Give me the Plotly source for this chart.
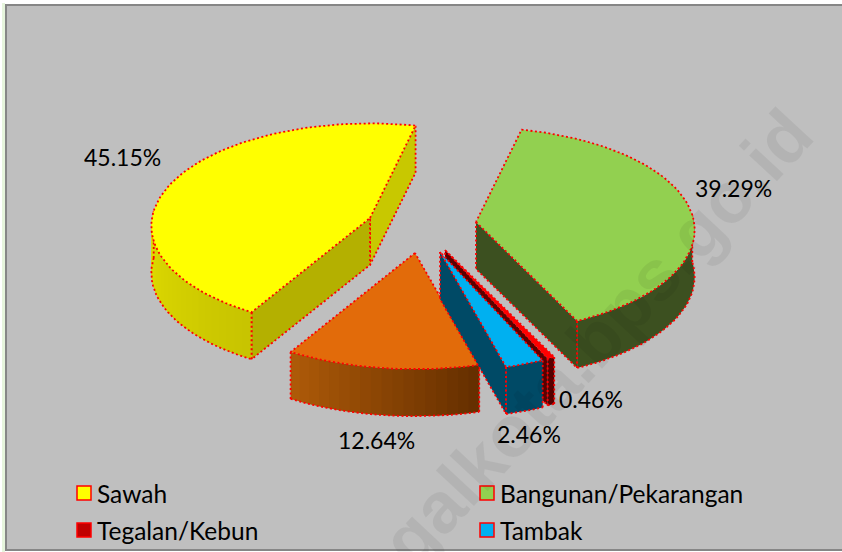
import math
import plotly.graph_objects as go

# --- data ---
slice_names = ["Sawah", "Lainnya", "Tambak", "Tegalan/Kebun", "Bangunan/Pekarangan"]
slice_values = [45.15, 12.64, 2.46, 0.46, 39.29]
legend_names = ["Sawah", "Bangunan/Pekarangan", "Tegalan/Kebun", "Tambak"]
legend_colors = ["#FFFF00", "#92D050", "#C00000", "#00B0F0"]

# --- styling / layout of the projected pie ---
START_ANGLE = 77.0
RX, RY, PERSP, DEPTH = 218.0, 102.0, 0.078, 47.0
BG = "#BFBFBF"
EDGE = "#FF0000"
FONT = "Lato"
styles = {
    "Sawah": dict(c=(370, 218), k=1.0, top="#FFFF00", w_start="#C8C800", w_end="#B4B000", arc=("#E2DE00", "#C8C400")),
    "Lainnya": dict(c=(415, 253), k=1.05, top="#E26B0A", w_start=None, w_end=None, arc=("#AD5A08", "#662F00")),
    "Tambak": dict(c=(440, 252), k=1.08, top="#00B0F0", w_start="#004A66", w_end=None, arc=("#004A66", "#004A66")),
    "Tegalan/Kebun": dict(c=(445, 250), k=1.08, top="#FF0000", w_start="#5A0000", w_end=None, arc=("#5A0000", "#5A0000")),
    "Bangunan/Pekarangan": dict(c=(476, 222), k=1.0, top="#92D050", w_start="#3C5020", w_end=None, arc=("#3C5020", "#3C5020")),
}
draw_order = ["Sawah", "Bangunan/Pekarangan", "Lainnya", "Tegalan/Kebun", "Tambak"]
label_pos = {
    "Sawah": (122, 157), "Bangunan/Pekarangan": (733, 188), "Lainnya": (376, 440),
    "Tambak": (529, 434), "Tegalan/Kebun": (591, 399),
}
legend_pos = [(84, 493), (487, 493), (84, 530), (487, 530)]

# cumulative angles, counter-clockwise
angles = {}
a = START_ANGLE
for n, v in zip(slice_names, slice_values):
    angles[n] = (a, a + v / sum(slice_values) * 360.0)
    a = angles[n][1]


def proj(c, deg, k=1.0, dz=0.0):
    t = math.radians(deg)
    w = 1 + PERSP * math.sin(t)
    return c[0] + k * RX * math.cos(t) / w, c[1] - k * RY * math.sin(t) / w + dz


def hex2rgb(h):
    return tuple(int(h[i:i + 2], 16) for i in (1, 3, 5))


def mix(c1, c2, f):
    a1, a2 = hex2rgb(c1), hex2rgb(c2)
    return "rgb(%d,%d,%d)" % tuple(round(p + (q - p) * f) for p, q in zip(a1, a2))


fig = go.Figure()


def poly(pts, fill, name):
    fig.add_trace(go.Scatter(
        x=[p[0] for p in pts], y=[p[1] for p in pts], mode="lines", fill="toself",
        fillcolor=fill, line=dict(width=0), name=name,
        showlegend=False, hoverinfo="skip"))


def edge(pts, name):
    fig.add_trace(go.Scatter(
        x=[p[0] for p in pts], y=[p[1] for p in pts], mode="lines",
        line=dict(color=EDGE, width=1.8, dash="2px,2.5px"), name=name,
        showlegend=False, hoverinfo="skip"))


for n in draw_order:
    s = styles[n]
    c, k = s["c"], s["k"]
    a0, a1 = angles[n]
    nsteps = max(2, int((a1 - a0) / 2))
    arc = [a0 + (a1 - a0) * i / nsteps for i in range(nsteps + 1)]
    top = [c] + [proj(c, t, k) for t in arc]

    # flat cut walls
    for key, ang in (("w_start", a0), ("w_end", a1)):
        if s[key]:
            p, q = c, proj(c, ang, k)
            poly([p, q, (q[0], q[1] + DEPTH), (p[0], p[1] + DEPTH)], s[key], n)
            edge([(q[0], q[1]), (q[0], q[1] + DEPTH), (p[0], p[1] + DEPTH), (p[0], p[1])], n)

    # outer rim wall (only the front half is visible)
    lo, hi = max(a0, 176.0), min(a1, 364.0)
    if hi > lo:
        strips = max(2, int((hi - lo) / 2.5))
        ts = [lo + (hi - lo) * i / strips for i in range(strips + 1)]
        if s["arc"][0] == s["arc"][1]:
            rim = [proj(c, t, k) for t in ts] + [proj(c, t, k, DEPTH) for t in reversed(ts)]
            poly(rim, s["arc"][0], n)
        else:
            for i in range(strips):
                # each strip runs under the next one so that no seam shows
                t0, t1 = ts[i], ts[min(i + 2, strips)]
                mid = [t0, ts[i + 1], t1]
                pts = [proj(c, t, k) for t in mid] + [proj(c, t, k, DEPTH) for t in reversed(mid)]
                poly(pts, mix(s["arc"][0], s["arc"][1], i / max(1, strips - 1)), n)
        edge([proj(c, t, k, DEPTH) for t in ts], n)
        first, last = proj(c, ts[0], k), proj(c, ts[-1], k)
        edge([first, (first[0], first[1] + DEPTH)], n)
        edge([last, (last[0], last[1] + DEPTH)], n)

    # top face
    poly(top, s["top"], n)
    edge(top + [c], n)

# legend swatches and labels
for name, col, (lx, ly) in zip(legend_names, legend_colors, legend_pos):
    fig.add_trace(go.Scatter(
        x=[lx], y=[ly], mode="markers", name=name, showlegend=False, hoverinfo="skip",
        marker=dict(symbol="square", size=14, color=col, line=dict(color=EDGE, width=1.5))))
    fig.add_annotation(x=lx + 11, y=ly, text=name, showarrow=False, xanchor="left", yanchor="middle",
                       font=dict(family=FONT, size=24.5, color="#000000"))

# value labels
for n, v in zip(slice_names, slice_values):
    lx, ly = label_pos[n]
    fig.add_annotation(x=lx, y=ly, text=f"{v:.2f}%", showarrow=False, xanchor="center", yanchor="middle",
                       font=dict(family=FONT, size=23, color="#000000"))

# watermark
fig.add_annotation(x=575, y=361, text="<b>tegalkota.bps.go.id</b>", showarrow=False, textangle=-47,
                   font=dict(family="Liberation Sans", size=72, color="rgba(0,0,0,0.06)"))

fig.update_layout(
    width=842, height=552, margin=dict(l=0, r=0, t=0, b=0), paper_bgcolor="#FFFFFF", plot_bgcolor="#FFFFFF",
    showlegend=False,
    xaxis=dict(range=[0, 842], visible=False, fixedrange=True),
    yaxis=dict(range=[552, 0], visible=False, fixedrange=True),
    shapes=[
        dict(type="rect", x0=2, y0=3, x1=5, y1=552, fillcolor="#E6F5DC", line_width=0, layer="below"),
        dict(type="rect", x0=6, y0=5, x1=848, y1=550, fillcolor=BG, line=dict(color="#868686", width=2), layer="below"),
    ],
)
fig.write_html("out.html", config={"displayModeBar": False},
               post_script="document.body.style.margin='0';document.body.style.overflow='hidden';")
